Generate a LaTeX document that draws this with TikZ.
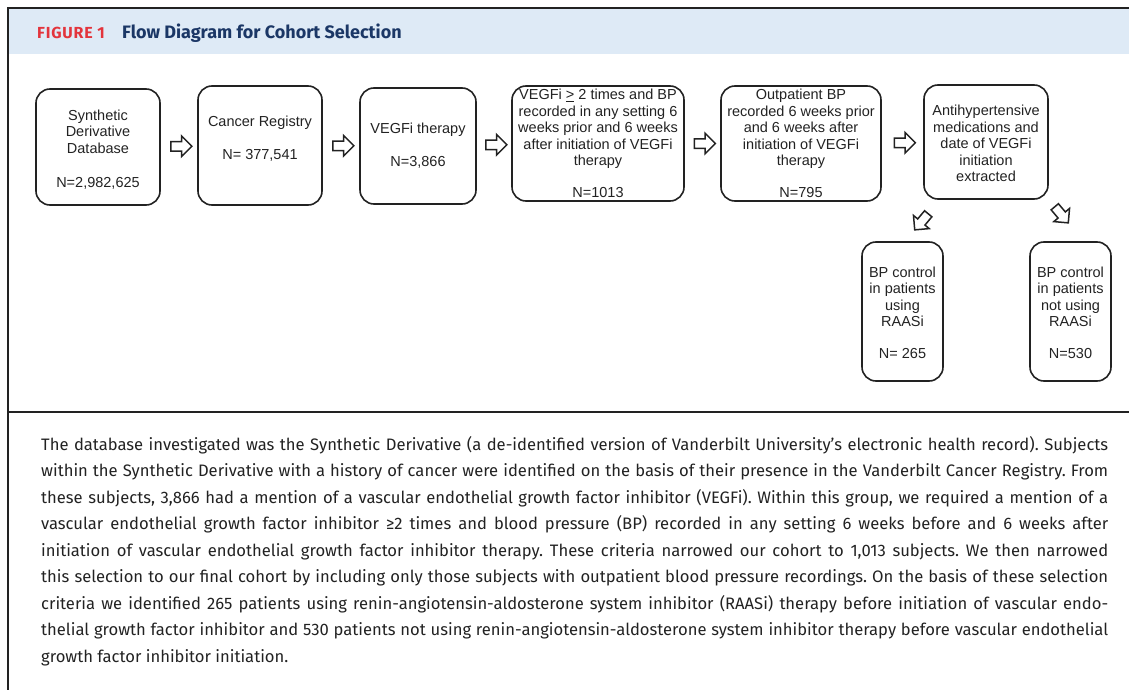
\documentclass[tikz,border=0pt]{standalone}
\usepackage{fontspec}
\setmainfont{Liberation Sans}
\newfontfamily\capfont{Fira Sans}
\usetikzlibrary{shapes.arrows,calc}
\definecolor{hdrbg}{HTML}{DEEAF6}
\definecolor{figred}{HTML}{E3343C}
\definecolor{navy}{HTML}{1B3766}
\definecolor{ink}{HTML}{222222}
\newcommand{\capline}[1]{\makebox[1067pt][s]{#1}}
\frenchspacing
\begin{document}
\begin{tikzpicture}[x=1pt,y=-1pt,
  box/.style={draw=ink, line width=1.6pt, rounded corners=14pt, inner sep=0pt},
  btxt/.style={align=center, text=ink, inner sep=0pt, font=\fontsize{14.5}{16.5}\selectfont},
  arr/.style={single arrow, draw=ink, line width=1.5pt, fill=white, inner xsep=0pt, inner ysep=4pt,
    minimum width=0pt, minimum height=21pt, single arrow head extend=5.5pt, single arrow tip angle=90}]
\useasboundingbox (0,0) rectangle (1129,690);
% frame and header
\fill[hdrbg] (9,9) rectangle (1129,54);
\draw[line width=2pt, ink] (1129,8) -- (8,8) -- (8,690);
\draw[line width=1.5pt, ink] (8,412) -- (1129,412);
\node[anchor=west, inner sep=0pt, text=figred, font=\capfont\bfseries\fontsize{16}{18}\selectfont\addfontfeatures{LetterSpace=5}] (fig) at (37,33) {FIGURE 1};
\node[anchor=west, inner sep=0pt, text=navy, font=\capfont\bfseries\fontsize{18}{20}\selectfont] (title) at (122,33) {Flow Diagram for Cohort Selection};
% boxes
\node[box, minimum width=124pt, minimum height=116pt] (b1) at (98,147) {};
\node[btxt] (t1) at (98,149.5) {Synthetic\\Derivative\\Database\\[18pt]N=2,982,625};
\node[box, minimum width=124pt, minimum height=119pt] (b2) at (260,145.5) {};
\node[btxt] (t2) at (260,138.5) {Cancer Registry\\[16pt]N= 377,541};
\node[box, minimum width=116pt, minimum height=116pt] (b3) at (418,146) {};
\node[btxt] (t3) at (418,145.5) {VEGFi therapy\\[16pt]N=3,866};
\node[box, minimum width=172pt, minimum height=115pt] (b4) at (598,143.5) {};
\node[btxt] (t4) at (598,143.5) {VEGFi \underline{>} 2 times and BP\\recorded in any setting 6\\weeks prior and 6 weeks\\after initiation of VEGFi\\therapy\\[15pt]N=1013};
\node[box, minimum width=160pt, minimum height=115pt] (b5) at (801,143.5) {};
\node[btxt] (t5) at (801,143.5) {Outpatient BP\\recorded 6 weeks prior\\and 6 weeks after\\initiation of VEGFi\\therapy\\[15pt]N=795};
\node[box, minimum width=124pt, minimum height=114pt] (b6) at (986,142) {};
\node[btxt] (t6) at (986,143.5) {Antihypertensive\\medications and\\date of VEGFi\\initiation\\extracted};
\node[box, minimum width=81pt, minimum height=139pt] (b7) at (902.5,311.5) {};
\node[btxt] (t7) at (902.5,312.5) {BP control\\in patients\\using\\RAASi\\[15pt]N= 265};
\node[box, minimum width=81pt, minimum height=139pt] (b8) at (1070.5,311.5) {};
\node[btxt] (t8) at (1070.5,312.5) {BP control\\in patients\\not using\\RAASi\\[15pt]N=530};
% block arrows
\node[arr] (a1) at ($(b1.east)!0.5!(b2.west)$) {};
\node[arr] (a2) at ($(b2.east)!0.5!(b3.west)$) {};
\node[arr] (a3) at ($(b3.east)!0.5!(b4.west)$) {};
\node[arr] (a4) at ($(b4.east)!0.5!(b5.west)$) {};
\node[arr] (a5) at ($(b5.east)!0.5!(b6.west)$) {};
\node[arr, rotate=230] (a6) at (923,220) {};
\node[arr, rotate=-50] (a7) at (1060,213) {};
% caption
\node[anchor=north west, inner sep=0pt, align=left, text=ink,
  font=\capfont\fontsize{16.6}{26.5}\selectfont] (cap) at (41,436) {\capline{The database investigated was the Synthetic Derivative (a de-identified version of Vanderbilt University’s electronic health record). Subjects}\\
\capline{within the Synthetic Derivative with a history of cancer were identified on the basis of their presence in the Vanderbilt Cancer Registry. From}\\
\capline{these subjects, 3,866 had a mention of a vascular endothelial growth factor inhibitor (VEGFi). Within this group, we required a mention of a}\\
\capline{vascular endothelial growth factor inhibitor ≥2 times and blood pressure (BP) recorded in any setting 6 weeks before and 6 weeks after}\\
\capline{initiation of vascular endothelial growth factor inhibitor therapy. These criteria narrowed our cohort to 1,013 subjects. We then narrowed}\\
\capline{this selection to our final cohort by including only those subjects with outpatient blood pressure recordings. On the basis of these selection}\\
\capline{criteria we identified 265 patients using renin-angiotensin-aldosterone system inhibitor (RAASi) therapy before initiation of vascular endo-}\\
\capline{thelial growth factor inhibitor and 530 patients not using renin-angiotensin-aldosterone system inhibitor therapy before vascular endothelial}\\
growth factor inhibitor initiation.};
\end{tikzpicture}
\end{document}
